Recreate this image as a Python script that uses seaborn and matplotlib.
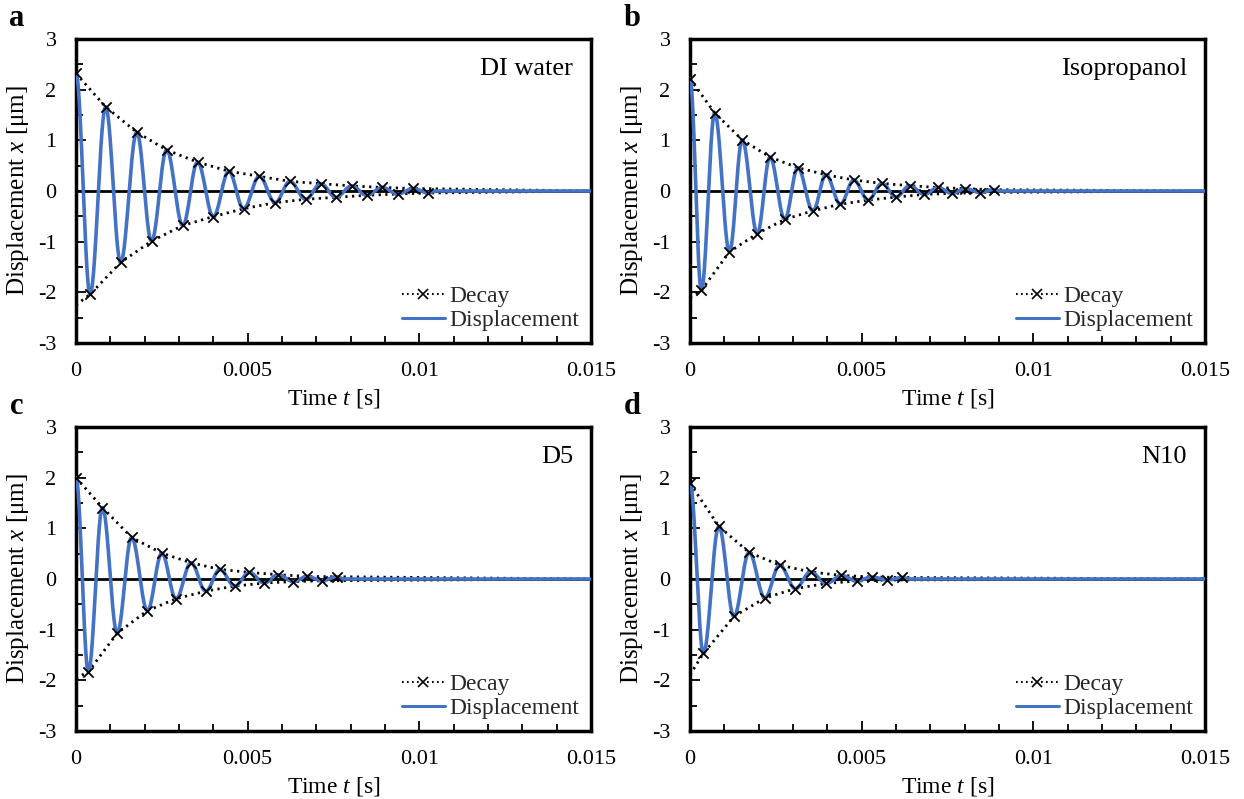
import numpy as np
import pandas as pd
import matplotlib
matplotlib.use("Agg")
import matplotlib.pyplot as plt
from matplotlib.lines import Line2D
from matplotlib.ticker import MultipleLocator
import seaborn as sns

sns.set_theme(style="white")
plt.rcParams['font.family'] = ['Liberation Serif', 'DejaVu Serif']
plt.rcParams['mathtext.fontset'] = 'custom'
plt.rcParams['mathtext.it'] = 'Liberation Serif:italic'
plt.rcParams['mathtext.rm'] = 'Liberation Serif'
plt.rcParams['axes.unicode_minus'] = False

# ---------------- data ----------------
panel_letters = ["a", "b", "c", "d"]
liquids = ["DI water", "Isopropanol", "D5", "N10"]

# upper (positive) peaks: times [s] and displacement [um]
a_up_t = [0, 0.000864, 0.00177, 0.00264, 0.00354, 0.00445, 0.00534, 0.00623, 0.00713, 0.00803, 0.00892, 0.00982]
a_up_x = [2.32, 1.66, 1.16, 0.81, 0.57, 0.39, 0.29, 0.19, 0.145, 0.10, 0.07, 0.05]
a_lo_t = [0.00041, 0.0013, 0.0022, 0.00311, 0.0040, 0.00488, 0.0058, 0.00669, 0.00757, 0.00847, 0.00937, 0.01026]
a_lo_x = [-2.04, -1.41, -0.99, -0.68, -0.505, -0.35, -0.23, -0.164, -0.124, -0.085, -0.06, -0.04]
a_lo_start = -2.25

b_up_t = [0, 0.00072, 0.00152, 0.00233, 0.00314, 0.00396, 0.00477, 0.00559, 0.0064, 0.00721, 0.00802, 0.00884]
b_up_x = [2.215, 1.54, 1.01, 0.67, 0.46, 0.32, 0.217, 0.15, 0.105, 0.07, 0.045, 0.026]
b_lo_t = [0.00033, 0.00115, 0.00196, 0.00276, 0.00358, 0.00438, 0.00519, 0.006, 0.00683, 0.00764, 0.00846]
b_lo_x = [-1.96, -1.20, -0.84, -0.56, -0.39, -0.26, -0.18, -0.12, -0.067, -0.047, -0.03]
b_lo_start = -2.1

c_up_t = [0, 0.00077, 0.00162, 0.0025, 0.00335, 0.00419, 0.00505, 0.00589, 0.00674, 0.00759]
c_up_x = [2.0, 1.41, 0.82, 0.51, 0.32, 0.19, 0.13, 0.085, 0.05, 0.045]
c_lo_t = [0.00036, 0.0012, 0.00208, 0.00291, 0.00378, 0.00462, 0.00548, 0.00633, 0.00717]
c_lo_x = [-1.83, -1.07, -0.625, -0.39, -0.24, -0.14, -0.08, -0.05, -0.035]
c_lo_start = -1.96

d_up_t = [0, 0.00084, 0.00172, 0.00261, 0.00351, 0.00441, 0.0053, 0.00618]
d_up_x = [1.89, 1.04, 0.525, 0.275, 0.14, 0.07, 0.04, 0.03]
d_lo_t = [0.00039, 0.00128, 0.00218, 0.00307, 0.00397, 0.00485, 0.00574]
d_lo_x = [-1.47, -0.74, -0.375, -0.19, -0.087, -0.04, -0.02]
d_lo_start = -1.89

t_end = 0.015
x_ticks = [0, 0.005, 0.01, 0.015]
x_tick_labels = ["0", "0.005", "0.01", "0.015"]
y_ticks = [-3, -2, -1, 0, 1, 2, 3]

panels = [
    (a_up_t, a_up_x, a_lo_t, a_lo_x, a_lo_start),
    (b_up_t, b_up_x, b_lo_t, b_lo_x, b_lo_start),
    (c_up_t, c_up_x, c_lo_t, c_lo_x, c_lo_start),
    (d_up_t, d_up_x, d_lo_t, d_lo_x, d_lo_start),
]

BLUE = "#4472C4"


def displacement_curve(up_t, up_x, lo_t, lo_x):
    """Join the read extrema with half-cosine arcs (oscillation shape)."""
    pts = sorted(list(zip(up_t, up_x)) + list(zip(lo_t, lo_x)))
    half = (pts[-1][0] - pts[0][0]) / (len(pts) - 1)
    # after the last read peak the line settles on zero
    pts.append((pts[-1][0] + half / 2, 0.0))
    ts, xs = [], []
    for (t0, x0), (t1, x1) in zip(pts[:-1], pts[1:]):
        s = np.linspace(0, 1, 40, endpoint=False)
        ts.extend(t0 + (t1 - t0) * s)
        xs.extend(x0 + (x1 - x0) * (1 - np.cos(np.pi * s)) / 2)
    ts.extend([pts[-1][0], t_end])
    xs.extend([0.0, 0.0])
    return pd.DataFrame({"t": ts, "x": xs})


fig = plt.figure(figsize=(12.44, 7.99), dpi=100)
W, H = 1244, 799
ax_w, ax_h = 515 / W, 304 / H
lefts = [76 / W, 690 / W, 76 / W, 690 / W]
bottoms = [1 - 343 / H, 1 - 343 / H, 1 - 731 / H, 1 - 731 / H]
letter_pos = [(17, 18), (632, 18), (17, 407), (632, 407)]

dot_style = (0, (0.8, 1.6))

for i, (up_t, up_x, lo_t, lo_x, lo_start) in enumerate(panels):
    ax = fig.add_axes([lefts[i], bottoms[i], ax_w, ax_h])
    ax.axhline(0, color="black", lw=2.0, zorder=1)

    # decay envelopes (dotted)
    env_up = pd.DataFrame({"t": list(up_t) + [t_end], "x": list(up_x) + [0.0]})
    env_lo = pd.DataFrame({"t": [0] + list(lo_t) + [t_end], "x": [lo_start] + list(lo_x) + [0.0]})
    for env in (env_up, env_lo):
        sns.lineplot(data=env, x="t", y="x", ax=ax, color="black", lw=2.0,
                     linestyle=dot_style, estimator=None, sort=True, zorder=2)

    # displacement
    disp = displacement_curve(up_t, up_x, lo_t, lo_x)
    sns.lineplot(data=disp, x="t", y="x", ax=ax, color=BLUE, lw=2.6,
                 estimator=None, sort=False, zorder=3)

    # decay markers
    mk = pd.DataFrame({"t": list(up_t) + list(lo_t), "x": list(up_x) + list(lo_x)})
    sns.scatterplot(data=mk, x="t", y="x", ax=ax, marker="x", color="black",
                    s=55, linewidth=1.3, zorder=4)

    ax.set_xlim(0, t_end)
    ax.set_ylim(-3, 3)
    ax.set_xticks(x_ticks)
    ax.set_xticklabels(x_tick_labels)
    ax.set_yticks(y_ticks)
    ax.xaxis.set_minor_locator(MultipleLocator(0.001))
    ax.yaxis.set_minor_locator(MultipleLocator(0.5))
    ax.tick_params(which="both", direction="in", bottom=True, left=True,
                   top=False, right=False, width=1.3, labelsize=16, colors="black")
    ax.tick_params(which="major", length=7, pad=14)
    ax.tick_params(which="minor", length=5)
    for sp in ax.spines.values():
        sp.set_visible(True)
        sp.set_color("black")
        sp.set_linewidth(2.5)

    ax.set_xlabel("Time $t$ [s]", fontsize=17, labelpad=4, color="black")
    ax.set_ylabel("Displacement $x$ [μm]", fontsize=18, labelpad=5, color="black")

    ax.text(1 - 18 / 515, 1 - 30 / 304, liquids[i], transform=ax.transAxes,
            ha="right", va="center", fontsize=19, color="black")

    handles = [
        Line2D([], [], color="black", lw=1.5, linestyle=(0, (0.8, 1.6)),
               marker="x", markersize=7, markeredgewidth=1.2),
        Line2D([], [], color=BLUE, lw=2.2),
    ]
    ax.legend(handles, ["Decay", "Displacement"], loc="lower right",
              frameon=False, fontsize=17, handlelength=1.8, handletextpad=0.2,
              labelspacing=0.1, borderaxespad=0.3, borderpad=0.2)

    fx, fy = letter_pos[i]
    fig.text(fx / W, 1 - fy / H, panel_letters[i], fontsize=22, fontweight="bold",
             ha="center", va="center", color="black")

fig.savefig("out.png", dpi=100)
